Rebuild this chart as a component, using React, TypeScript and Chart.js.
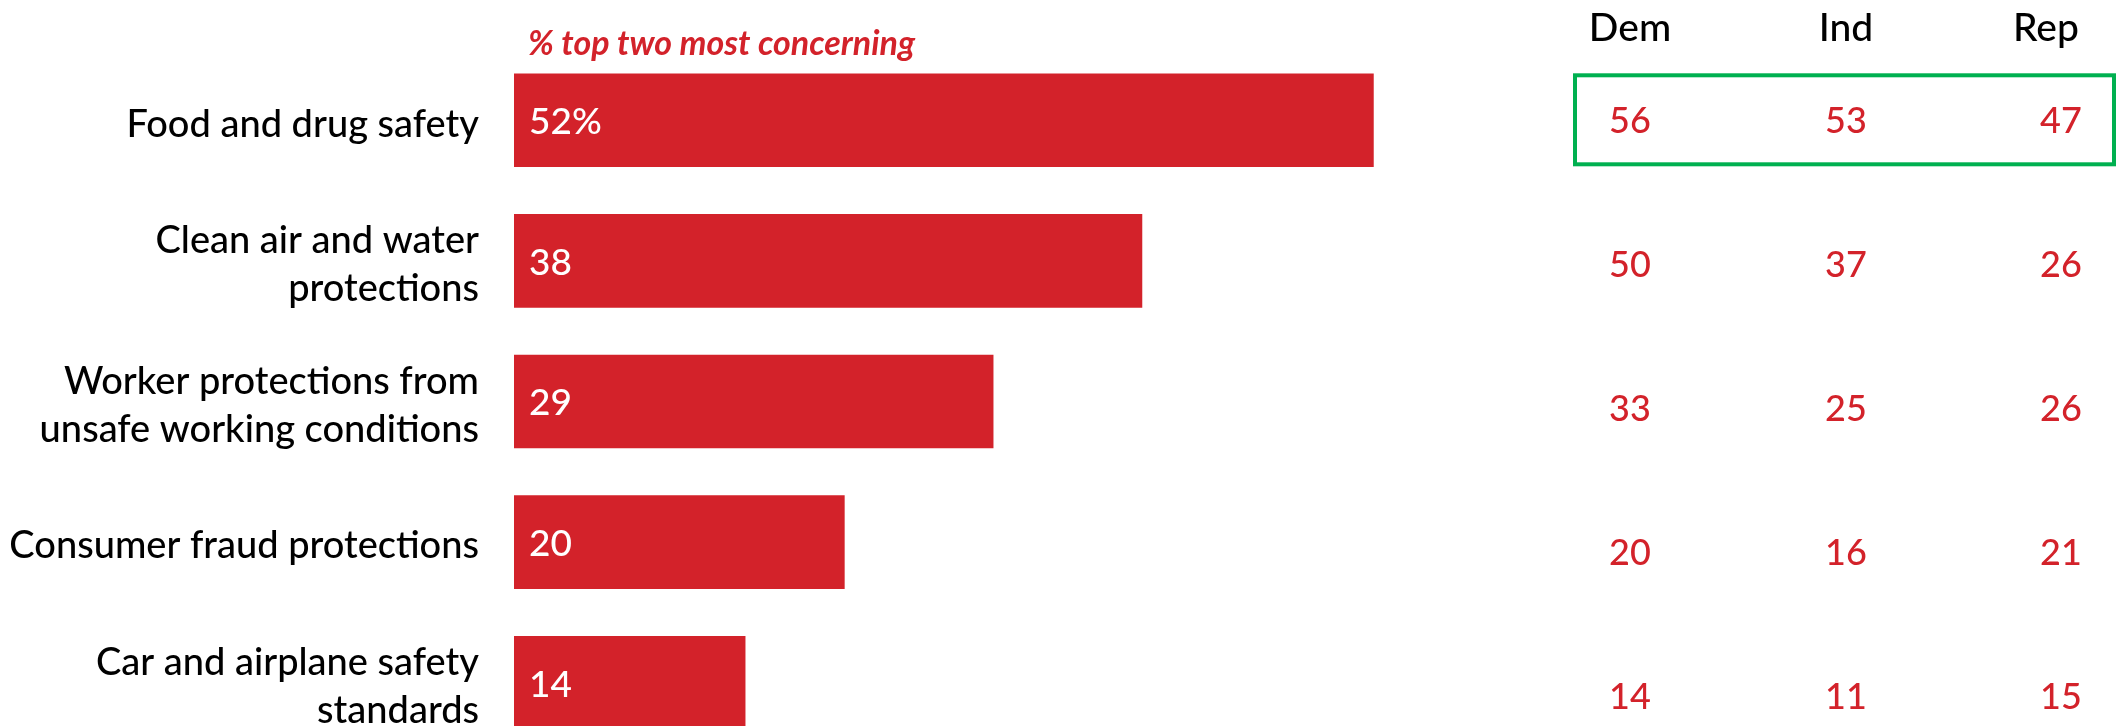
import React, { useEffect, useRef } from "react";
import { Chart, registerables } from "chart.js";

Chart.register(...registerables);

const categories: string[][] = [
  ["Food and drug safety"],
  ["Clean air and water", "protections"],
  ["Worker protections from", "unsafe working conditions"],
  ["Consumer fraud protections"],
  ["Car and airplane safety", "standards"],
];
const totals = [52, 38, 29, 20, 14];
const columnHeaders = ["Dem", "Ind", "Rep"];
const demValues = [56, 50, 33, 20, 14];
const indValues = [53, 37, 25, 16, 11];
const repValues = [47, 26, 26, 21, 15];
const subtitle = "% top two most concerning";

const RED = "#d3222a";
const FONT = "Lato, 'Noto Sans', sans-serif";

export default function App() {
  const ref = useRef<HTMLCanvasElement | null>(null);

  useEffect(() => {
    const canvas = ref.current!;
    const overlay = {
      id: "overlay",
      afterDatasetsDraw(chart: any) {
        const ctx = chart.ctx;
        const meta = chart.getDatasetMeta(0);
        const yScale = chart.scales.y;
        ctx.save();
        // value labels inside bars
        ctx.fillStyle = "#ffffff";
        ctx.font = `500 37px ${FONT}`;
        ctx.textAlign = "left";
        ctx.textBaseline = "middle";
        meta.data.forEach((bar: any, i: number) => {
          const txt = i === 0 ? `${totals[i]}%` : `${totals[i]}`;
          ctx.fillText(txt, bar.base + 15, bar.y + 2);
        });
        // subtitle
        ctx.fillStyle = RED;
        ctx.font = `italic 700 34px ${FONT}`;
        ctx.textBaseline = "alphabetic";
        ctx.fillText(subtitle, chart.chartArea.left + 14, 55);
        // table headers
        const colX = [1630, 1846, 2046];
        const numX = [1630, 1846, 2061];
        ctx.fillStyle = "#000000";
        ctx.font = `500 39px ${FONT}`;
        ctx.textAlign = "center";
        columnHeaders.forEach((h, j) => ctx.fillText(h, colX[j], 41));
        // table values
        const cols = [demValues, indValues, repValues];
        ctx.fillStyle = RED;
        ctx.font = `500 36px ${FONT}`;
        ctx.textBaseline = "middle";
        for (let i = 0; i < categories.length; i++) {
          const y = yScale.getPixelForValue(i) + i * 3.5 + 1;
          cols.forEach((col, j) => ctx.fillText(String(col[i]), numX[j], y));
        }
        // green highlight box around first row
        const y0 = yScale.getPixelForValue(0);
        ctx.strokeStyle = "#00b050";
        ctx.lineWidth = 4;
        ctx.strokeRect(1575, y0 - 45, 539, 89);
        ctx.restore();
      },
    };

    const chart = new Chart(canvas, {
      type: "bar",
      data: {
        labels: categories,
        datasets: [
          {
            data: totals,
            backgroundColor: RED,
            borderWidth: 0,
            barPercentage: 0.666,
            categoryPercentage: 1,
          },
        ],
      },
      options: {
        indexAxis: "y",
        responsive: false,
        animation: false,
        devicePixelRatio: 1,
        layout: { padding: { top: 50, right: 611, bottom: 0, left: 0 } },
        plugins: {
          legend: { display: false },
          tooltip: { enabled: false },
          title: { display: false },
        },
        scales: {
          x: {
            display: false,
            min: 0,
            max: 60,
          },
          y: {
            grid: { display: false, drawTicks: false },
            border: { display: false },
            ticks: {
              color: "#000000",
              padding: 35,
              labelOffset: 4,
              font: { family: FONT, size: 38, weight: "500", lineHeight: 1.25 },
            },
            afterFit(scale: any) {
              scale.width = 514;
              scale.paddingTop = 0;
              scale.paddingBottom = 0;
            },
          },
        },
      },
      plugins: [overlay],
    } as any);

    return () => chart.destroy();
  }, []);

  return (
    <div
      style={{
        position: "fixed",
        left: 0,
        top: 0,
        width: 2117,
        height: 726,
        overflow: "hidden",
        background: "#ffffff",
      }}
    >
      <canvas ref={ref} width={2117} height={753} style={{ display: "block" }} />
    </div>
  );
}
